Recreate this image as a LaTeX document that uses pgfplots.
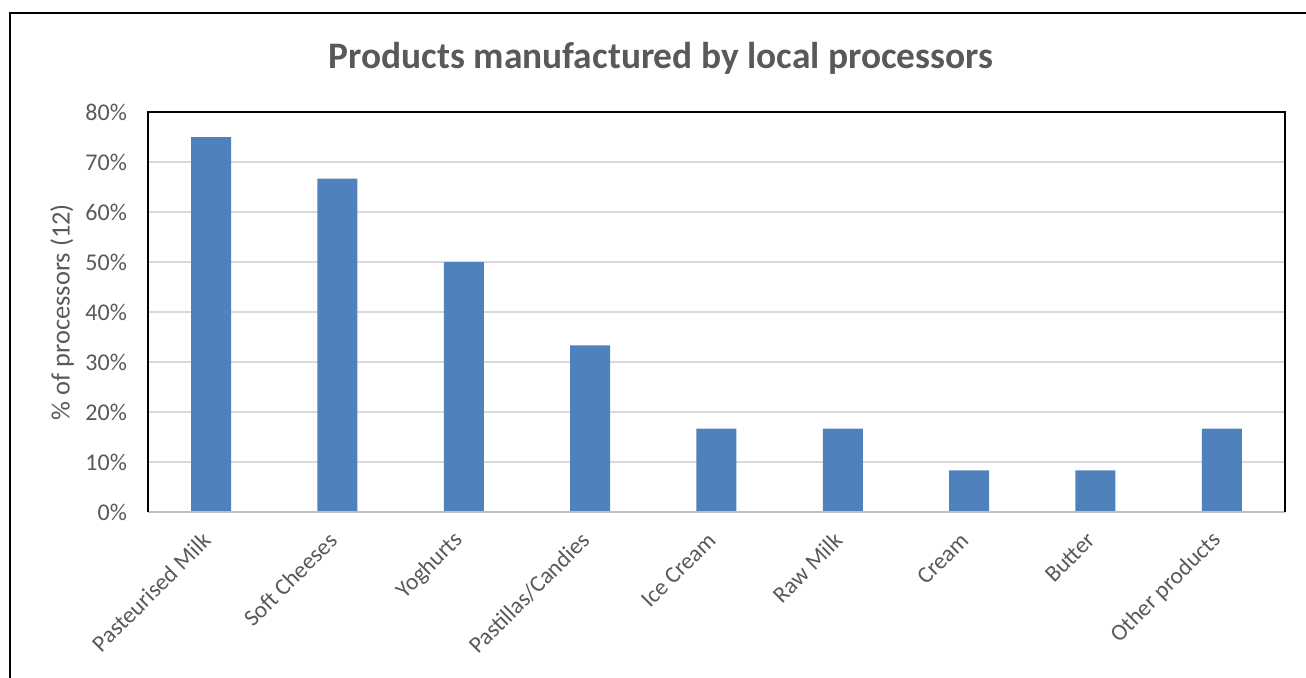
\documentclass[border=0pt]{standalone}
\usepackage{pgfplots}
\pgfplotsset{compat=1.18}
\usepackage{fontspec}
\setmainfont{Carlito}
\definecolor{barblue}{HTML}{4F81BD}
\definecolor{txtgray}{HTML}{595959}
\definecolor{gridgray}{HTML}{D9D9D9}
\definecolor{axgray}{HTML}{BFBFBF}
\begin{document}
\begin{tikzpicture}
\useasboundingbox (0,0) rectangle (653pt,-338.5pt);
\draw[line width=1pt,black] (5pt,-340pt) -- (5pt,-6.5pt) -- (655pt,-6.5pt);
\node[font=\fontsize{18.7}{22}\selectfont\bfseries, text=txtgray] at (330.5pt,-29pt) {Products manufactured by local processors};
\node[font=\fontsize{13.2}{15}\selectfont, text=txtgray, rotate=90] at (31pt,-156pt) {\% of processors (12)};
\begin{axis}[
  at={(74pt,-256pt)}, anchor=south west,
  scale only axis, width=568.5pt, height=200pt,
  xmin=-0.5, xmax=8.5, ymin=0, ymax=80,
  axis line style={draw=none},
  ytick={0,10,...,80},
  yticklabels={0\%,10\%,20\%,30\%,40\%,50\%,60\%,70\%,80\%},
  xtick={0,...,8},
  xticklabels={Pasteurised Milk,Soft Cheeses,Yoghurts,Pastillas/Candies,Ice Cream,Raw Milk,Cream,Butter,Other products},
  tick style={draw=none},
  ymajorgrids, grid style={gridgray, line width=0.6pt},
  yticklabel style={font=\fontsize{12}{14}\selectfont, text=txtgray, xshift=-7pt},
  xticklabel style={font=\fontsize{11.7}{13}\selectfont, text=txtgray, yshift=-11.5pt, xshift=-1.5pt, rotate=45, anchor=east, inner sep=1pt},
  /pgf/number format/assume math mode=true,
  every axis plot/.append style={bar width=20pt},
  after end axis/.code={
    \draw[axgray, line width=0.8pt] (rel axis cs:0,0) -- (rel axis cs:1,0);
    \draw[black, line width=1pt] (rel axis cs:0,0) -- (rel axis cs:0,1) -- (rel axis cs:1,1) -- (rel axis cs:1,0);
  },
]
\addplot[ybar, fill=barblue, draw=none] coordinates {
(0,75) (1,66.67) (2,50) (3,33.33) (4,16.67) (5,16.67) (6,8.33) (7,8.33) (8,16.67)};
\end{axis}
\end{tikzpicture}
\end{document}
